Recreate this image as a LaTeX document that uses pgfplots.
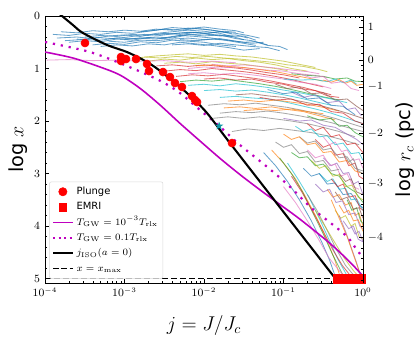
\documentclass[border=0pt]{standalone}
\usepackage[no-math]{fontspec}
\setmainfont{DejaVu Sans}
\usepackage{pgfplots}
\pgfplotsset{compat=1.18}

\definecolor{tb}{HTML}{1F77B4}
\definecolor{to}{HTML}{FF7F0E}
\definecolor{tg}{HTML}{2CA02C}
\definecolor{tr}{HTML}{D62728}
\definecolor{tp}{HTML}{9467BD}
\definecolor{tbr}{HTML}{8C564B}
\definecolor{tpk}{HTML}{E377C2}
\definecolor{tgy}{HTML}{7F7F7F}
\definecolor{tol}{HTML}{BCBD22}
\definecolor{tc}{HTML}{17BECF}
\definecolor{mag}{rgb}{0.75,0,0.75}

% filled five-point star
\pgfdeclareplotmark{fstar}{%
  \pgfpathmoveto{\pgfpointpolar{90}{\pgfplotmarksize}}%
  \pgfpathlineto{\pgfpointpolar{126}{0.4\pgfplotmarksize}}%
  \pgfpathlineto{\pgfpointpolar{162}{\pgfplotmarksize}}%
  \pgfpathlineto{\pgfpointpolar{198}{0.4\pgfplotmarksize}}%
  \pgfpathlineto{\pgfpointpolar{234}{\pgfplotmarksize}}%
  \pgfpathlineto{\pgfpointpolar{270}{0.4\pgfplotmarksize}}%
  \pgfpathlineto{\pgfpointpolar{306}{\pgfplotmarksize}}%
  \pgfpathlineto{\pgfpointpolar{342}{0.4\pgfplotmarksize}}%
  \pgfpathlineto{\pgfpointpolar{18}{\pgfplotmarksize}}%
  \pgfpathlineto{\pgfpointpolar{54}{0.4\pgfplotmarksize}}%
  \pgfpathclose
  \pgfusepathqfill}

\pgfplotsset{
  traj/.style={line width=0.6pt, opacity=0.68, forget plot},
  lgline/.style={legend image code/.code={\draw[##1] (0cm,0cm) -- (0.5cm,0cm);}},
  lgmark/.style={legend image code/.code={\draw[##1] plot coordinates {(0.25cm,0cm)};}},
}

\begin{document}
\begin{tikzpicture}
  %% main axis: log x (reversed) vs log j
  \begin{axis}[
    name=main,
    scale only axis, width=229.8pt, height=193pt,
    at={(0,0)}, anchor=south west,
    xmin=-4, xmax=0, ymin=0, ymax=5.085, y dir=reverse,
    xtick={-4,-3,-2,-1,0},
    xticklabels={$10^{-4}$,$10^{-3}$,$10^{-2}$,$10^{-1}$,$10^{0}$},
    minor xtick={-3.699,-3.523,-3.398,-3.301,-3.222,-3.155,-3.097,-3.046,
                 -2.699,-2.523,-2.398,-2.301,-2.222,-2.155,-2.097,-2.046,
                 -1.699,-1.523,-1.398,-1.301,-1.222,-1.155,-1.097,-1.046,
                 -0.699,-0.523,-0.398,-0.301,-0.222,-0.155,-0.097,-0.046},
    ytick={0,1,2,3,4,5}, minor y tick num=4, ytick pos=left,
    tick align=inside, major tick length=3pt, minor tick length=1.7pt,
    tick style={black, line width=0.5pt},
    axis line style={line width=0.7pt},
    ticklabel style={font=\fontsize{7.7}{9}\selectfont},
    legend style={at={(axis description cs:0.013,0.016)}, anchor=south west,
      font=\fontsize{7.2}{8}\selectfont, draw=black!15, fill=white,
      fill opacity=0.8, text opacity=1, rounded corners=1.5pt,
      inner sep=1.8pt, row sep=0.3pt,
      cells={anchor=west, inner sep=0.4pt, text height=5.3pt, text depth=2.1pt}},
    clip=true,
  ]
    % ---- trajectories: top blue band
    \addplot[traj, tb] coordinates {(-3.85,0.42)(-3.6,0.40)(-3.4,0.43)(-3.2,0.38)(-3.0,0.36)(-2.8,0.39)(-2.6,0.33)(-2.4,0.30)(-2.2,0.27)(-2.0,0.29)(-1.8,0.33)(-1.6,0.41)(-1.5,0.45)};
    \addplot[traj, tb] coordinates {(-3.7,0.50)(-3.5,0.47)(-3.3,0.49)(-3.1,0.44)(-2.9,0.46)(-2.7,0.41)(-2.5,0.43)(-2.3,0.37)(-2.1,0.39)(-1.9,0.42)(-1.7,0.47)(-1.5,0.52)(-1.35,0.56)};
    \addplot[traj, tb] coordinates {(-3.4,0.55)(-3.2,0.52)(-3.0,0.54)(-2.8,0.49)(-2.6,0.51)(-2.4,0.46)(-2.2,0.48)(-2.0,0.50)(-1.8,0.55)(-1.6,0.58)};
    \addplot[traj, tb] coordinates {(-3.9,0.35)(-3.7,0.37)(-3.5,0.33)(-3.3,0.35)(-3.1,0.31)(-2.9,0.33)(-2.7,0.29)(-2.5,0.25)(-2.3,0.27)(-2.1,0.24)(-1.9,0.27)(-1.7,0.32)};
    \addplot[traj, tb] coordinates {(-3.0,0.45)(-2.8,0.42)(-2.6,0.44)(-2.4,0.39)(-2.2,0.35)(-2.0,0.38)(-1.8,0.36)(-1.6,0.43)(-1.4,0.47)(-1.2,0.55)};
    \addplot[traj, tb] coordinates {(-3.6,0.44)(-3.3,0.46)(-3.1,0.42)(-2.9,0.43)(-2.6,0.40)(-2.4,0.42)(-2.2,0.36)(-2.0,0.34)(-1.8,0.38)(-1.6,0.36)(-1.45,0.42)};
    \addplot[traj, tb] coordinates {(-2.8,0.30)(-2.6,0.27)(-2.4,0.22)(-2.2,0.24)(-2.0,0.21)(-1.8,0.25)(-1.6,0.28)(-1.5,0.32)};
    \addplot[traj, tb] coordinates {(-3.3,0.58)(-3.1,0.55)(-2.9,0.57)(-2.7,0.53)(-2.5,0.55)(-2.3,0.50)(-2.1,0.53)(-1.9,0.56)(-1.7,0.60)(-1.5,0.65)(-1.3,0.62)};
    \addplot[traj, tb] coordinates {(-3.8,0.30)(-3.6,0.32)(-3.4,0.28)(-3.2,0.30)(-3.0,0.27)(-2.8,0.29)(-2.6,0.25)(-2.4,0.27)(-2.2,0.23)(-2.0,0.25)(-1.8,0.29)(-1.65,0.34)};
    \addplot[traj, tb] coordinates {(-3.5,0.40)(-3.3,0.37)(-3.1,0.39)(-2.9,0.35)(-2.7,0.37)(-2.5,0.33)(-2.3,0.35)(-2.1,0.31)(-1.9,0.35)(-1.7,0.39)(-1.5,0.38)(-1.35,0.46)};
    \addplot[traj, tb] coordinates {(-3.2,0.48)(-3.0,0.50)(-2.8,0.46)(-2.6,0.47)(-2.4,0.44)(-2.2,0.42)(-2.0,0.45)(-1.8,0.43)(-1.6,0.48)(-1.4,0.52)(-1.25,0.50)};
    \addplot[traj, tb] coordinates {(-2.6,0.35)(-2.4,0.34)(-2.2,0.31)(-2.0,0.33)(-1.8,0.30)(-1.6,0.33)(-1.45,0.37)(-1.3,0.42)};
    \addplot[traj, tb] coordinates {(-3.75,0.47)(-3.55,0.45)(-3.35,0.41)(-3.15,0.43)(-2.95,0.40)(-2.75,0.35)(-2.55,0.37)(-2.35,0.33)(-2.15,0.31)(-1.95,0.33)(-1.75,0.29)(-1.6,0.31)};
    \addplot[traj, tb] coordinates {(-2.4,0.55)(-2.2,0.53)(-2.0,0.56)(-1.8,0.52)(-1.6,0.55)(-1.4,0.58)(-1.2,0.60)(-1.05,0.66)};
    \addplot[traj, tb] coordinates {(-2.3,0.45)(-2.1,0.47)(-1.9,0.44)(-1.7,0.46)(-1.5,0.50)(-1.35,0.49)(-1.2,0.56)(-1.05,0.58)(-0.95,0.64)};
    % ---- olive / pink band
    \addplot[traj, tol] coordinates {(-2.85,0.80)(-2.6,0.76)(-2.4,0.74)(-2.2,0.72)(-2.0,0.75)(-1.8,0.73)(-1.6,0.76)(-1.4,0.78)(-1.2,0.82)(-1.0,0.86)(-0.8,0.92)(-0.6,0.98)};
    \addplot[traj, tol] coordinates {(-2.7,0.86)(-2.5,0.82)(-2.3,0.84)(-2.1,0.80)(-1.9,0.83)(-1.7,0.81)(-1.5,0.85)(-1.3,0.88)(-1.1,0.93)(-0.9,1.00)(-0.7,1.05)};
    \addplot[traj, tol] coordinates {(-2.5,0.90)(-2.3,0.88)(-2.1,0.91)(-1.9,0.87)(-1.7,0.90)(-1.5,0.92)(-1.3,0.96)(-1.1,1.00)(-0.95,1.04)};
    \addplot[traj, tol] coordinates {(-2.75,0.78)(-2.55,0.80)(-2.35,0.77)(-2.15,0.79)(-1.95,0.77)(-1.75,0.80)(-1.55,0.82)(-1.35,0.85)(-1.15,0.88)(-0.95,0.93)(-0.75,0.96)(-0.55,1.02)(-0.45,1.06)};
    \addplot[traj, tpk] coordinates {(-3.98,0.84)(-3.7,0.83)(-3.4,0.85)(-3.1,0.84)(-2.8,0.86)(-2.5,0.85)(-2.2,0.88)(-1.9,0.86)(-1.6,0.89)};
    % ---- red / pink / green band
    \addplot[traj, tr] coordinates {(-2.5,1.05)(-2.3,1.02)(-2.1,1.04)(-1.9,1.00)(-1.7,1.03)(-1.5,1.06)(-1.3,1.10)(-1.1,1.15)(-0.9,1.21)(-0.7,1.28)(-0.5,1.35)};
    \addplot[traj, tr] coordinates {(-2.35,1.15)(-2.15,1.12)(-1.95,1.14)(-1.75,1.11)(-1.55,1.15)(-1.35,1.19)(-1.15,1.24)(-0.95,1.30)(-0.75,1.36)(-0.55,1.44)(-0.4,1.50)};
    \addplot[traj, tr] coordinates {(-2.0,1.20)(-1.8,1.18)(-1.6,1.22)(-1.4,1.20)(-1.2,1.26)(-1.0,1.30)(-0.8,1.38)(-0.6,1.42)(-0.45,1.52)(-0.3,1.55)};
    \addplot[traj, tr] coordinates {(-2.6,0.95)(-2.4,0.93)(-2.2,0.96)(-2.0,0.93)(-1.8,0.96)(-1.6,0.99)(-1.4,1.03)(-1.2,1.08)(-1.0,1.12)(-0.8,1.18)};
    \addplot[traj, tpk] coordinates {(-2.2,1.00)(-2.0,0.97)(-1.8,0.99)(-1.6,0.97)(-1.4,1.00)(-1.2,1.03)(-1.0,1.05)(-0.8,1.10)(-0.6,1.13)(-0.45,1.17)};
    \addplot[traj, tpk] coordinates {(-1.9,0.92)(-1.7,0.95)(-1.5,0.93)(-1.3,0.96)(-1.1,0.99)(-0.9,1.03)(-0.7,1.06)(-0.55,1.10)};
    \addplot[traj, tpk] coordinates {(-2.2,1.10)(-2.0,1.08)(-1.8,1.11)(-1.6,1.09)(-1.4,1.12)(-1.2,1.16)(-1.0,1.20)(-0.8,1.26)(-0.6,1.30)(-0.4,1.38)};
    \addplot[traj, to] coordinates {(-2.1,0.95)(-1.9,0.93)(-1.7,0.96)(-1.5,0.98)(-1.3,1.02)(-1.1,1.06)(-0.9,1.12)(-0.7,1.18)(-0.5,1.24)};
    \addplot[traj, tg] coordinates {(-2.3,1.25)(-2.1,1.22)(-1.9,1.24)(-1.7,1.21)(-1.5,1.25)(-1.3,1.29)(-1.1,1.34)(-0.9,1.40)(-0.7,1.47)(-0.5,1.54)(-0.3,1.60)};
    \addplot[traj, tg] coordinates {(-0.9,1.10)(-0.7,1.13)(-0.5,1.15)(-0.35,1.20)(-0.2,1.18)(-0.1,1.24)(0,1.25)};
    % ---- cyan band
    \addplot[traj, tc] coordinates {(-2.2,1.32)(-2.0,1.30)(-1.8,1.33)(-1.6,1.29)(-1.4,1.32)(-1.2,1.36)(-1.0,1.41)(-0.8,1.46)(-0.6,1.52)(-0.4,1.58)(-0.2,1.65)};
    \addplot[traj, tc] coordinates {(-2.0,1.42)(-1.8,1.40)(-1.6,1.43)(-1.4,1.41)(-1.2,1.45)(-1.0,1.50)(-0.8,1.56)(-0.6,1.63)(-0.4,1.70)};
    \addplot[traj, tc] coordinates {(-1.0,1.20)(-0.8,1.22)(-0.6,1.21)(-0.45,1.25)(-0.35,1.20)(-0.25,1.27)(-0.15,1.22)(-0.08,1.30)};
    \addplot[traj, tc] coordinates {(-1.8,1.55)(-1.6,1.53)(-1.4,1.56)(-1.2,1.58)(-1.0,1.63)(-0.8,1.70)(-0.6,1.77)(-0.4,1.85)(-0.2,1.95)(0,2.05)};
    \addplot[traj, to] coordinates {(-0.5,1.22)(-0.4,1.26)(-0.3,1.21)(-0.22,1.28)(-0.15,1.24)(-0.08,1.32)(0,1.30)};
    % ---- gray / orange band
    \addplot[traj, tgy] coordinates {(-1.95,1.70)(-1.75,1.67)(-1.55,1.69)(-1.35,1.66)(-1.15,1.70)(-0.95,1.74)(-0.75,1.80)(-0.55,1.87)(-0.35,1.95)(-0.15,2.05)(0,2.12)};
    \addplot[traj, tgy] coordinates {(-1.8,1.85)(-1.6,1.82)(-1.4,1.84)(-1.2,1.81)(-1.0,1.85)(-0.8,1.90)(-0.6,1.96)(-0.4,2.03)(-0.2,2.12)(0,2.20)};
    \addplot[traj, tgy] coordinates {(-1.9,1.95)(-1.7,1.92)(-1.5,1.95)(-1.3,1.92)(-1.1,1.96)(-0.9,2.00)(-0.7,2.05)(-0.5,2.12)(-0.3,2.20)(-0.1,2.30)};
    \addplot[traj, to] coordinates {(-1.5,1.80)(-1.3,1.78)(-1.1,1.80)(-0.9,1.77)(-0.7,1.82)(-0.5,1.86)};
    \addplot[traj, to] coordinates {(-1.7,1.62)(-1.5,1.60)(-1.3,1.63)(-1.1,1.60)(-0.9,1.64)(-0.7,1.68)(-0.5,1.74)(-0.3,1.81)};
    \addplot[traj, to] coordinates {(-1.75,1.75)(-1.55,1.73)(-1.35,1.76)(-1.15,1.73)(-0.95,1.78)(-0.75,1.82)(-0.55,1.90)(-0.35,1.98)};
    \addplot[traj, tgy] coordinates {(-1.65,2.20)(-1.45,2.15)(-1.25,2.18)(-1.05,2.14)(-0.85,2.18)(-0.65,2.22)(-0.45,2.28)(-0.25,2.36)(-0.05,2.45)};
    \addplot[traj, tbr] coordinates {(-1.6,1.50)(-1.4,1.48)(-1.2,1.52)(-1.0,1.55)(-0.8,1.62)(-0.6,1.68)(-0.4,1.76)(-0.2,1.85)(0,1.95)};
    % ---- tangle on the right, middle
    \addplot[traj, tp] coordinates {(-0.9,1.45)(-0.75,1.55)(-0.6,1.50)(-0.45,1.65)(-0.3,1.62)(-0.2,1.78)(-0.1,1.75)(-0.02,1.90)};
    \addplot[traj, tbr] coordinates {(-1.1,1.30)(-0.95,1.38)(-0.8,1.35)(-0.65,1.48)(-0.5,1.46)(-0.35,1.60)(-0.2,1.58)(-0.08,1.72)(0,1.80)};
    \addplot[traj, tpk] coordinates {(-0.8,1.10)(-0.65,1.18)(-0.5,1.15)(-0.4,1.28)(-0.25,1.25)(-0.15,1.38)(-0.05,1.42)};
    \addplot[traj, tr] coordinates {(-1.3,1.55)(-1.1,1.60)(-0.9,1.58)(-0.7,1.70)(-0.55,1.68)(-0.4,1.82)(-0.25,1.85)(-0.1,2.00)(0,2.05)};
    \addplot[traj, tg] coordinates {(-0.7,1.90)(-0.55,1.98)(-0.4,1.95)(-0.3,2.10)(-0.2,2.08)(-0.1,2.22)(0,2.30)};
    \addplot[traj, tb] coordinates {(-1.2,1.40)(-1.0,1.48)(-0.85,1.45)(-0.7,1.58)(-0.55,1.56)(-0.4,1.70)(-0.25,1.72)(-0.1,1.88)};
    \addplot[traj, tp] coordinates {(-1.0,1.95)(-0.8,2.00)(-0.65,1.98)(-0.5,2.08)(-0.35,2.12)(-0.2,2.25)(-0.08,2.35)(0,2.45)};
    % ---- tangle on the right, lower
    \addplot[traj, tr] coordinates {(-0.6,2.35)(-0.5,2.50)(-0.42,2.45)(-0.35,2.65)(-0.25,2.62)(-0.18,2.85)(-0.1,2.80)(-0.05,3.05)(0,3.10)};
    \addplot[traj, tp] coordinates {(-0.5,2.70)(-0.4,2.85)(-0.33,2.80)(-0.25,3.00)(-0.18,2.98)(-0.12,3.20)(-0.06,3.15)(0,3.40)};
    \addplot[traj, to] coordinates {(-0.45,3.30)(-0.38,3.45)(-0.3,3.40)(-0.22,3.60)(-0.15,3.55)(-0.1,3.80)(-0.05,3.75)(0,4.00)};
    \addplot[traj, tpk] coordinates {(-0.7,2.55)(-0.6,2.70)(-0.5,2.65)(-0.42,2.85)(-0.35,2.82)(-0.28,3.05)(-0.2,3.00)(-0.12,3.25)(-0.05,3.30)};
    \addplot[traj, tgy] coordinates {(-0.8,2.30)(-0.7,2.42)(-0.6,2.38)(-0.5,2.55)(-0.4,2.52)(-0.3,2.70)(-0.2,2.68)(-0.1,2.90)(0,2.95)};
    \addplot[traj, tol] coordinates {(-0.35,3.70)(-0.28,3.85)(-0.22,3.80)(-0.15,4.00)(-0.1,3.95)(-0.05,4.20)(0,4.25)};
    \addplot[traj, tc] coordinates {(-0.55,3.00)(-0.45,3.15)(-0.38,3.10)(-0.3,3.30)(-0.22,3.28)(-0.15,3.50)(-0.08,3.48)(0,3.70)};
    \addplot[traj, tbr] coordinates {(-0.3,3.00)(-0.22,3.15)(-0.15,3.10)(-0.08,3.35)(0,3.40)};
    \addplot[traj, tp] coordinates {(-0.25,3.90)(-0.18,4.05)(-0.12,4.00)(-0.06,4.25)(0,4.30)};
    \addplot[traj, tg] coordinates {(-0.9,2.60)(-0.8,2.70)(-0.7,2.68)(-0.6,2.85)(-0.5,2.82)(-0.4,3.00)(-0.3,3.05)(-0.2,3.25)(-0.1,3.35)(0,3.55)};
    \addplot[traj, to] coordinates {(-1.0,2.25)(-0.9,2.35)(-0.8,2.30)(-0.7,2.45)(-0.6,2.42)(-0.5,2.60)(-0.4,2.58)(-0.3,2.78)(-0.2,2.75)(-0.1,2.95)(0,3.00)};
    \addplot[traj, tb] coordinates {(-0.75,2.90)(-0.65,3.05)(-0.55,3.00)(-0.45,3.20)(-0.35,3.18)(-0.25,3.40)(-0.15,3.38)(-0.05,3.60)(0,3.65)};
    \addplot[traj, tr] coordinates {(-0.4,3.10)(-0.32,3.25)(-0.25,3.20)(-0.18,3.45)(-0.1,3.42)(-0.04,3.65)(0,3.70)};
    \addplot[traj, tp] coordinates {(-0.6,3.20)(-0.5,3.35)(-0.42,3.30)(-0.34,3.55)(-0.26,3.52)(-0.18,3.78)(-0.1,3.75)(-0.04,4.00)(0,4.05)};
    \addplot[traj, tg] coordinates {(-0.2,3.50)(-0.14,3.70)(-0.08,3.65)(-0.03,3.90)(0,3.95)};
    \addplot[traj, tpk] coordinates {(-0.5,2.30)(-0.42,2.45)(-0.35,2.40)(-0.27,2.58)(-0.2,2.55)(-0.12,2.75)(-0.05,2.72)(0,2.90)};
    \addplot[traj, tol] coordinates {(-0.65,2.75)(-0.55,2.90)(-0.47,2.85)(-0.38,3.05)(-0.3,3.02)(-0.22,3.25)(-0.14,3.22)(-0.06,3.45)(0,3.50)};
    \addplot[traj, tgy] coordinates {(-1.1,2.40)(-1.0,2.50)(-0.9,2.45)(-0.8,2.62)(-0.7,2.58)(-0.6,2.78)(-0.5,2.75)(-0.4,2.95)(-0.3,2.92)};
    \addplot[traj, tbr] coordinates {(-0.35,3.35)(-0.28,3.50)(-0.2,3.45)(-0.12,3.68)(-0.05,3.65)(0,3.85)};
    \addplot[traj, tc] coordinates {(-0.85,2.10)(-0.75,2.20)(-0.65,2.15)(-0.55,2.30)(-0.45,2.28)(-0.35,2.45)(-0.25,2.42)(-0.15,2.62)(-0.05,2.60)(0,2.75)};
    \addplot[traj, to] coordinates {(-0.3,3.60)(-0.24,3.75)(-0.18,3.70)(-0.12,3.90)(-0.06,3.88)(0,4.10)};
    \addplot[traj, tp] coordinates {(-0.15,4.00)(-0.1,4.15)(-0.05,4.10)(0,4.30)};
    \addplot[traj, tr] coordinates {(-0.7,2.05)(-0.6,2.18)(-0.5,2.12)(-0.4,2.30)(-0.3,2.26)(-0.2,2.45)(-0.1,2.42)(0,2.60)};
    \addplot[traj, tgy] coordinates {(-0.25,2.60)(-0.18,2.78)(-0.12,2.72)(-0.06,2.95)(0,3.00)};
    % ---- inspirals towards x_max
    \addplot[traj, tb] coordinates {(-1.25,2.60)(-1.1,2.85)(-0.95,3.15)(-0.8,3.50)(-0.65,3.90)(-0.52,4.30)(-0.42,4.65)(-0.34,5.0)};
    \addplot[traj, to] coordinates {(-1.15,2.55)(-1.0,2.80)(-0.85,3.10)(-0.72,3.45)(-0.58,3.85)(-0.46,4.25)(-0.36,4.62)(-0.28,5.0)};
    \addplot[traj, tg] coordinates {(-1.05,2.70)(-0.9,3.00)(-0.76,3.35)(-0.63,3.75)(-0.5,4.15)(-0.38,4.55)(-0.23,5.0)};
    \addplot[traj, tc] coordinates {(-0.95,2.80)(-0.82,3.10)(-0.68,3.45)(-0.55,3.85)(-0.43,4.25)(-0.32,4.62)(-0.18,5.0)};
    \addplot[traj, tr] coordinates {(-0.9,3.05)(-0.77,3.35)(-0.64,3.70)(-0.5,4.10)(-0.38,4.45)(-0.26,4.75)(-0.13,5.0)};
    \addplot[traj, tpk] coordinates {(-1.0,3.25)(-0.85,3.55)(-0.7,3.90)(-0.56,4.25)(-0.43,4.60)(-0.3,4.85)(-0.2,5.0)};
    \addplot[traj, tgy] coordinates {(-0.7,3.40)(-0.58,3.70)(-0.46,4.05)(-0.35,4.40)(-0.22,4.75)(-0.08,5.0)};
    \addplot[traj, tol] coordinates {(-0.6,3.70)(-0.48,4.00)(-0.36,4.30)(-0.24,4.60)(-0.12,4.85)(-0.03,5.0)};
    \addplot[traj, tp] coordinates {(-0.3,3.80)(-0.22,4.10)(-0.15,4.40)(-0.08,4.70)(-0.02,5.0)};
    \addplot[traj, to] coordinates {(-0.4,3.50)(-0.3,3.85)(-0.2,4.20)(-0.12,4.55)(-0.05,4.85)(-0.01,5.0)};

    % ---- T_GW = 1e-3 T_rlx
    \addplot[mag, line width=1.15pt, smooth, forget plot] coordinates {
      (-4.0,0.686)(-3.648,0.800)(-3.308,0.971)(-3.057,1.124)(-2.805,1.377)(-2.553,1.695)
      (-2.302,2.044)(-2.050,2.38)(-1.799,2.71)(-1.547,3.02)(-1.296,3.31)(-1.044,3.59)
      (-0.792,3.87)(-0.415,4.33)(-0.164,4.686)(0,4.952)};
    % ---- T_GW = 0.1 T_rlx
    \addplot[mag, line width=1.6pt, dash pattern=on 1.6pt off 4.2pt, smooth, forget plot] coordinates {
      (-4.0,0.495)(-3.434,0.686)(-2.969,0.952)(-2.553,1.232)(-2.302,1.467)(-2.050,1.790)
      (-1.799,2.109)(-1.547,2.457)(-1.208,2.870)(-0.918,3.251)(-0.667,3.632)(-0.453,3.886)
      (-0.201,4.200)(-0.075,4.457)(0,4.60)};
    % ---- j_ISO(a=0)
    \addplot[black, line width=1.5pt, smooth, tension=0.5, forget plot] coordinates {
      (-3.87,-0.1)(-3.786,0)(-3.65,0.17)(-3.522,0.324)(-3.22,0.552)(-2.969,0.686)
      (-2.717,0.876)(-2.516,1.086)(-2.214,1.467)(-1.962,1.848)(-1.635,2.495)(-0.352,4.99)};
    % ---- x = x_max
    \addplot[black, line width=1.1pt, dash pattern=on 4.5pt off 2pt, forget plot] coordinates {(-4,5.0)(0,5.0)};
    % ---- plunges
    \addplot[only marks, mark=*, red, mark size=2.9pt, forget plot] coordinates {
      (-3.497,0.514)(-3.044,0.781)(-3.044,0.857)(-2.981,0.819)(-2.855,0.819)(-2.717,0.914)
      (-2.692,1.048)(-2.516,1.067)(-2.428,1.162)(-2.365,1.276)(-2.277,1.352)(-2.151,1.524)
      (-2.113,1.600)(-2.088,1.638)(-1.648,2.419)};
    % ---- EMRIs
    \addplot[only marks, mark=square*, red, mark size=3.2pt, forget plot] coordinates {
      (-0.32,5.0)(-0.295,5.0)(-0.27,5.0)(-0.245,5.0)(-0.22,5.0)(-0.195,5.0)(-0.17,5.0)
      (-0.145,5.0)(-0.12,5.0)(-0.095,5.0)(-0.07,5.0)(-0.045,5.0)(-0.03,5.0)};
    % ---- single star
    \addplot[only marks, mark=fstar, color=tc!80!black, mark size=3.2pt, forget plot] coordinates {(-1.81,2.095)};

    % ---- legend
    \addlegendimage{red, only marks, mark=*, mark size=3pt, fill opacity=1, lgmark}
    \addlegendentry{Plunge}
    \addlegendimage{red, only marks, mark=square*, mark size=2.8pt, fill opacity=1, lgmark}
    \addlegendentry{EMRI}
    \addlegendimage{mag, line width=1.15pt, lgline}
    \addlegendentry{$T_{\mathrm{GW}}=10^{-3}T_{\mathrm{rlx}}$}
    \addlegendimage{mag, line width=1.6pt, dash pattern=on 1.6pt off 2.4pt, lgline}
    \addlegendentry{$T_{\mathrm{GW}}=0.1T_{\mathrm{rlx}}$}
    \addlegendimage{black, line width=1.5pt, lgline}
    \addlegendentry{$j_{\mathrm{ISO}}(a=0)$}
    \addlegendimage{black, line width=1.1pt, dash pattern=on 4pt off 2pt, lgline}
    \addlegendentry{$x=x_{\max}$}
  \end{axis}

  %% right axis: log r_c (pc)
  \begin{axis}[
    scale only axis, width=229.8pt, height=193pt,
    at={(0,0)}, anchor=south west,
    xmin=-4, xmax=0, ymin=0, ymax=5.085, y dir=reverse,
    axis x line=none, axis y line*=right,
    ytick={0.2095,0.838,1.352,2.229,3.181,4.21},
    yticklabels={$1$,$0$,$-1$,$-2$,$-3$,$-4$},
    minor ytick={0.084,0.336,0.461,0.587,0.712,0.941,1.044,1.147,1.249,
                 1.527,1.703,1.878,2.054,2.419,2.61,2.8,2.991,
                 3.387,3.592,3.798,4.004,4.416,4.622,4.828,5.034},
    tick align=inside, major tick length=3pt, minor tick length=1.7pt,
    tick style={black, line width=0.5pt},
    axis line style={line width=0.7pt},
    ticklabel style={font=\fontsize{7.7}{9}\selectfont},
  ]
    \addplot[draw=none, forget plot] coordinates {(-4,0)(0,5)};
  \end{axis}

  %% axis labels
  \node[rotate=90, font=\fontsize{14}{16}\selectfont] at ([xshift=-19.5pt]main.west) {log $x$};
  \node[font=\fontsize{14}{16}\selectfont] at ([yshift=-30.4pt]main.south) {$j=J/J_c$};
  \node[rotate=90, font=\fontsize{14}{16}\selectfont] at ([xshift=30.4pt]main.east) {log $r_c$ (pc)};

  \pgfresetboundingbox
  \path ([xshift=-32.52pt,yshift=-38.30pt]main.south west) rectangle ([xshift=41.19pt,yshift=11.56pt]main.north east);
\end{tikzpicture}
\end{document}
